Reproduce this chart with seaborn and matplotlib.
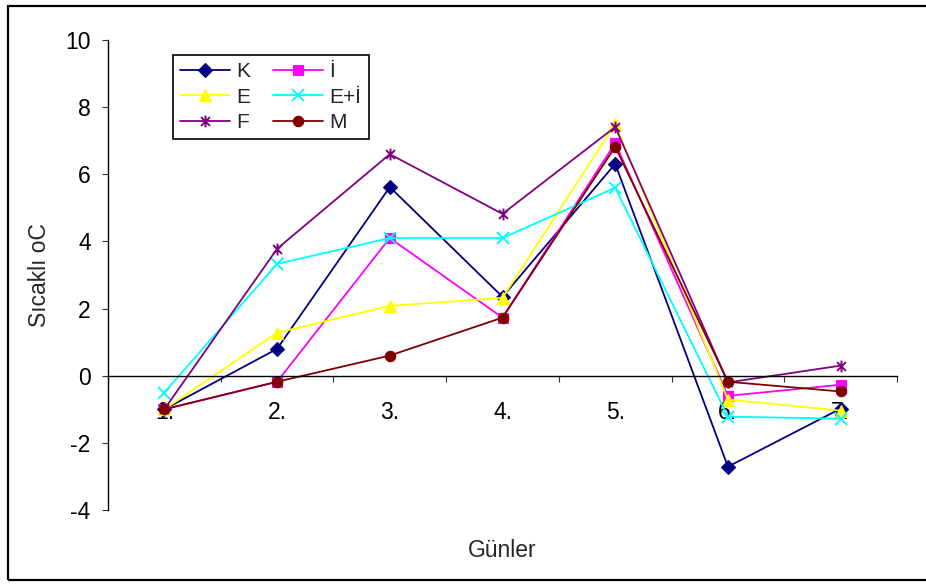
"""Gunlere gore sicaklik degisimi - seri bazinda cizgi grafigi."""

import matplotlib

matplotlib.use("Agg")
import matplotlib.pyplot as plt
import pandas as pd
import seaborn as sns
from matplotlib.patches import Rectangle
from matplotlib.path import Path

sns.set_style("white")
plt.rcParams["font.family"] = ["Liberation Sans", "DejaVu Sans"]
plt.rcParams["axes.unicode_minus"] = False

GUNLER = ["1.", "2.", "3.", "4.", "5.", "6.", "7."]
SERILER = ["K", "İ", "E", "E+İ", "F", "M"]
K = [-1.0, 0.8, 5.62, 2.35, 6.31, -2.71, -0.98]
I = [-1.0, -0.18, 4.1, 1.73, 6.93, -0.6, -0.27]
E = [-1.0, 1.28, 2.08, 2.32, 7.5, -0.71, -1.04]
EI = [-0.5, 3.33, 4.1, 4.1, 5.6, -1.22, -1.28]
F = [-1.0, 3.78, 6.6, 4.82, 7.41, -0.2, 0.3]
M = [-1.0, -0.18, 0.6, 1.73, 6.82, -0.18, -0.47]
Y_TICKS = [-4, -2, 0, 2, 4, 6, 8, 10]

YILDIZ = Path([(0, -1), (0, 1), (-0.75, -0.75), (0.75, 0.75), (-0.75, 0.75), (0.75, -0.75)],
              [Path.MOVETO, Path.LINETO] * 3)

# seri -> (renk, isaret, boyut)
STIL = {
    "K": ("#000080", "D", 7),
    "İ": ("#FF00FF", "s", 7.5),
    "E": ("#FFFF00", "^", 8.5),
    "E+İ": ("#00FFFF", "x", 8),
    "F": ("#800080", YILDIZ, 8.5),
    "M": ("#800000", "o", 7.5),
}

df = pd.DataFrame({"gun": GUNLER * len(SERILER),
                   "seri": [s for s in SERILER for _ in GUNLER],
                   "sicaklik": K + I + E + EI + F + M})

fig = plt.figure(figsize=(9.26, 5.85), dpi=100)
ax = fig.add_axes([108 / 926, 1 - 510 / 585, 789 / 926, 470 / 585])

for s in SERILER:
    renk, isaret, boyut = STIL[s]
    d = df[df["seri"] == s]
    sns.lineplot(data=d, x="gun", y="sicaklik", ax=ax, label=s, color=renk,
                 marker=isaret, markersize=boyut, linewidth=1.3,
                 markerfacecolor=renk, markeredgecolor=renk,
                 markeredgewidth=1.4 if s in ("E+İ", "F") else 0.8)

ax.set_xlim(-0.5, 6.5)
ax.set_ylim(-4, 10)
ax.set_yticks(Y_TICKS)
ax.set_xticks(range(len(GUNLER)))
ax.set_xticklabels(GUNLER)
ax.set_xticks([i - 0.5 for i in range(len(GUNLER) + 1)], minor=True)

for yon in ("top", "right"):
    ax.spines[yon].set_visible(False)
ax.spines["bottom"].set_position(("data", 0))
for yon in ("left", "bottom"):
    ax.spines[yon].set_color("black")
    ax.spines[yon].set_linewidth(1.0)

ax.tick_params(axis="y", direction="out", length=4.5, width=0.8, color="#333333",
               pad=8, labelsize=16.5, labelcolor="black", left=True)
ax.tick_params(axis="x", which="major", length=0, pad=18, labelsize=16.5,
               labelcolor="black")
ax.tick_params(axis="x", which="minor", direction="out", length=4.5, width=0.8,
               color="#333333", bottom=True)

ax.set_ylabel("Sıcaklı oC", fontsize=16.5)
ax.set_xlabel("Günler", fontsize=16.5)
ax.yaxis.set_label_coords(-0.072, 0.5)
ax.xaxis.set_label_coords(0.5, -0.062)

h, l = ax.get_legend_handles_labels()
sira = [0, 2, 4, 1, 3, 5]
leg = ax.legend([h[i] for i in sira], [l[i] for i in sira], ncol=2,
                loc="upper left", bbox_to_anchor=(0.082, 0.968), borderaxespad=0,
                fontsize=15, frameon=True, fancybox=False, framealpha=1,
                edgecolor="black", handlelength=2.4, handletextpad=0.3,
                columnspacing=1.1, labelspacing=0.3, borderpad=0.35)
leg.get_frame().set_linewidth(1.2)

fig.patches.append(Rectangle((8 / 926, 1 - 580 / 585), 1.0, 574 / 585,
                             transform=fig.transFigure, fill=False,
                             edgecolor="black", linewidth=1.6))

fig.savefig("out.png", dpi=100)
